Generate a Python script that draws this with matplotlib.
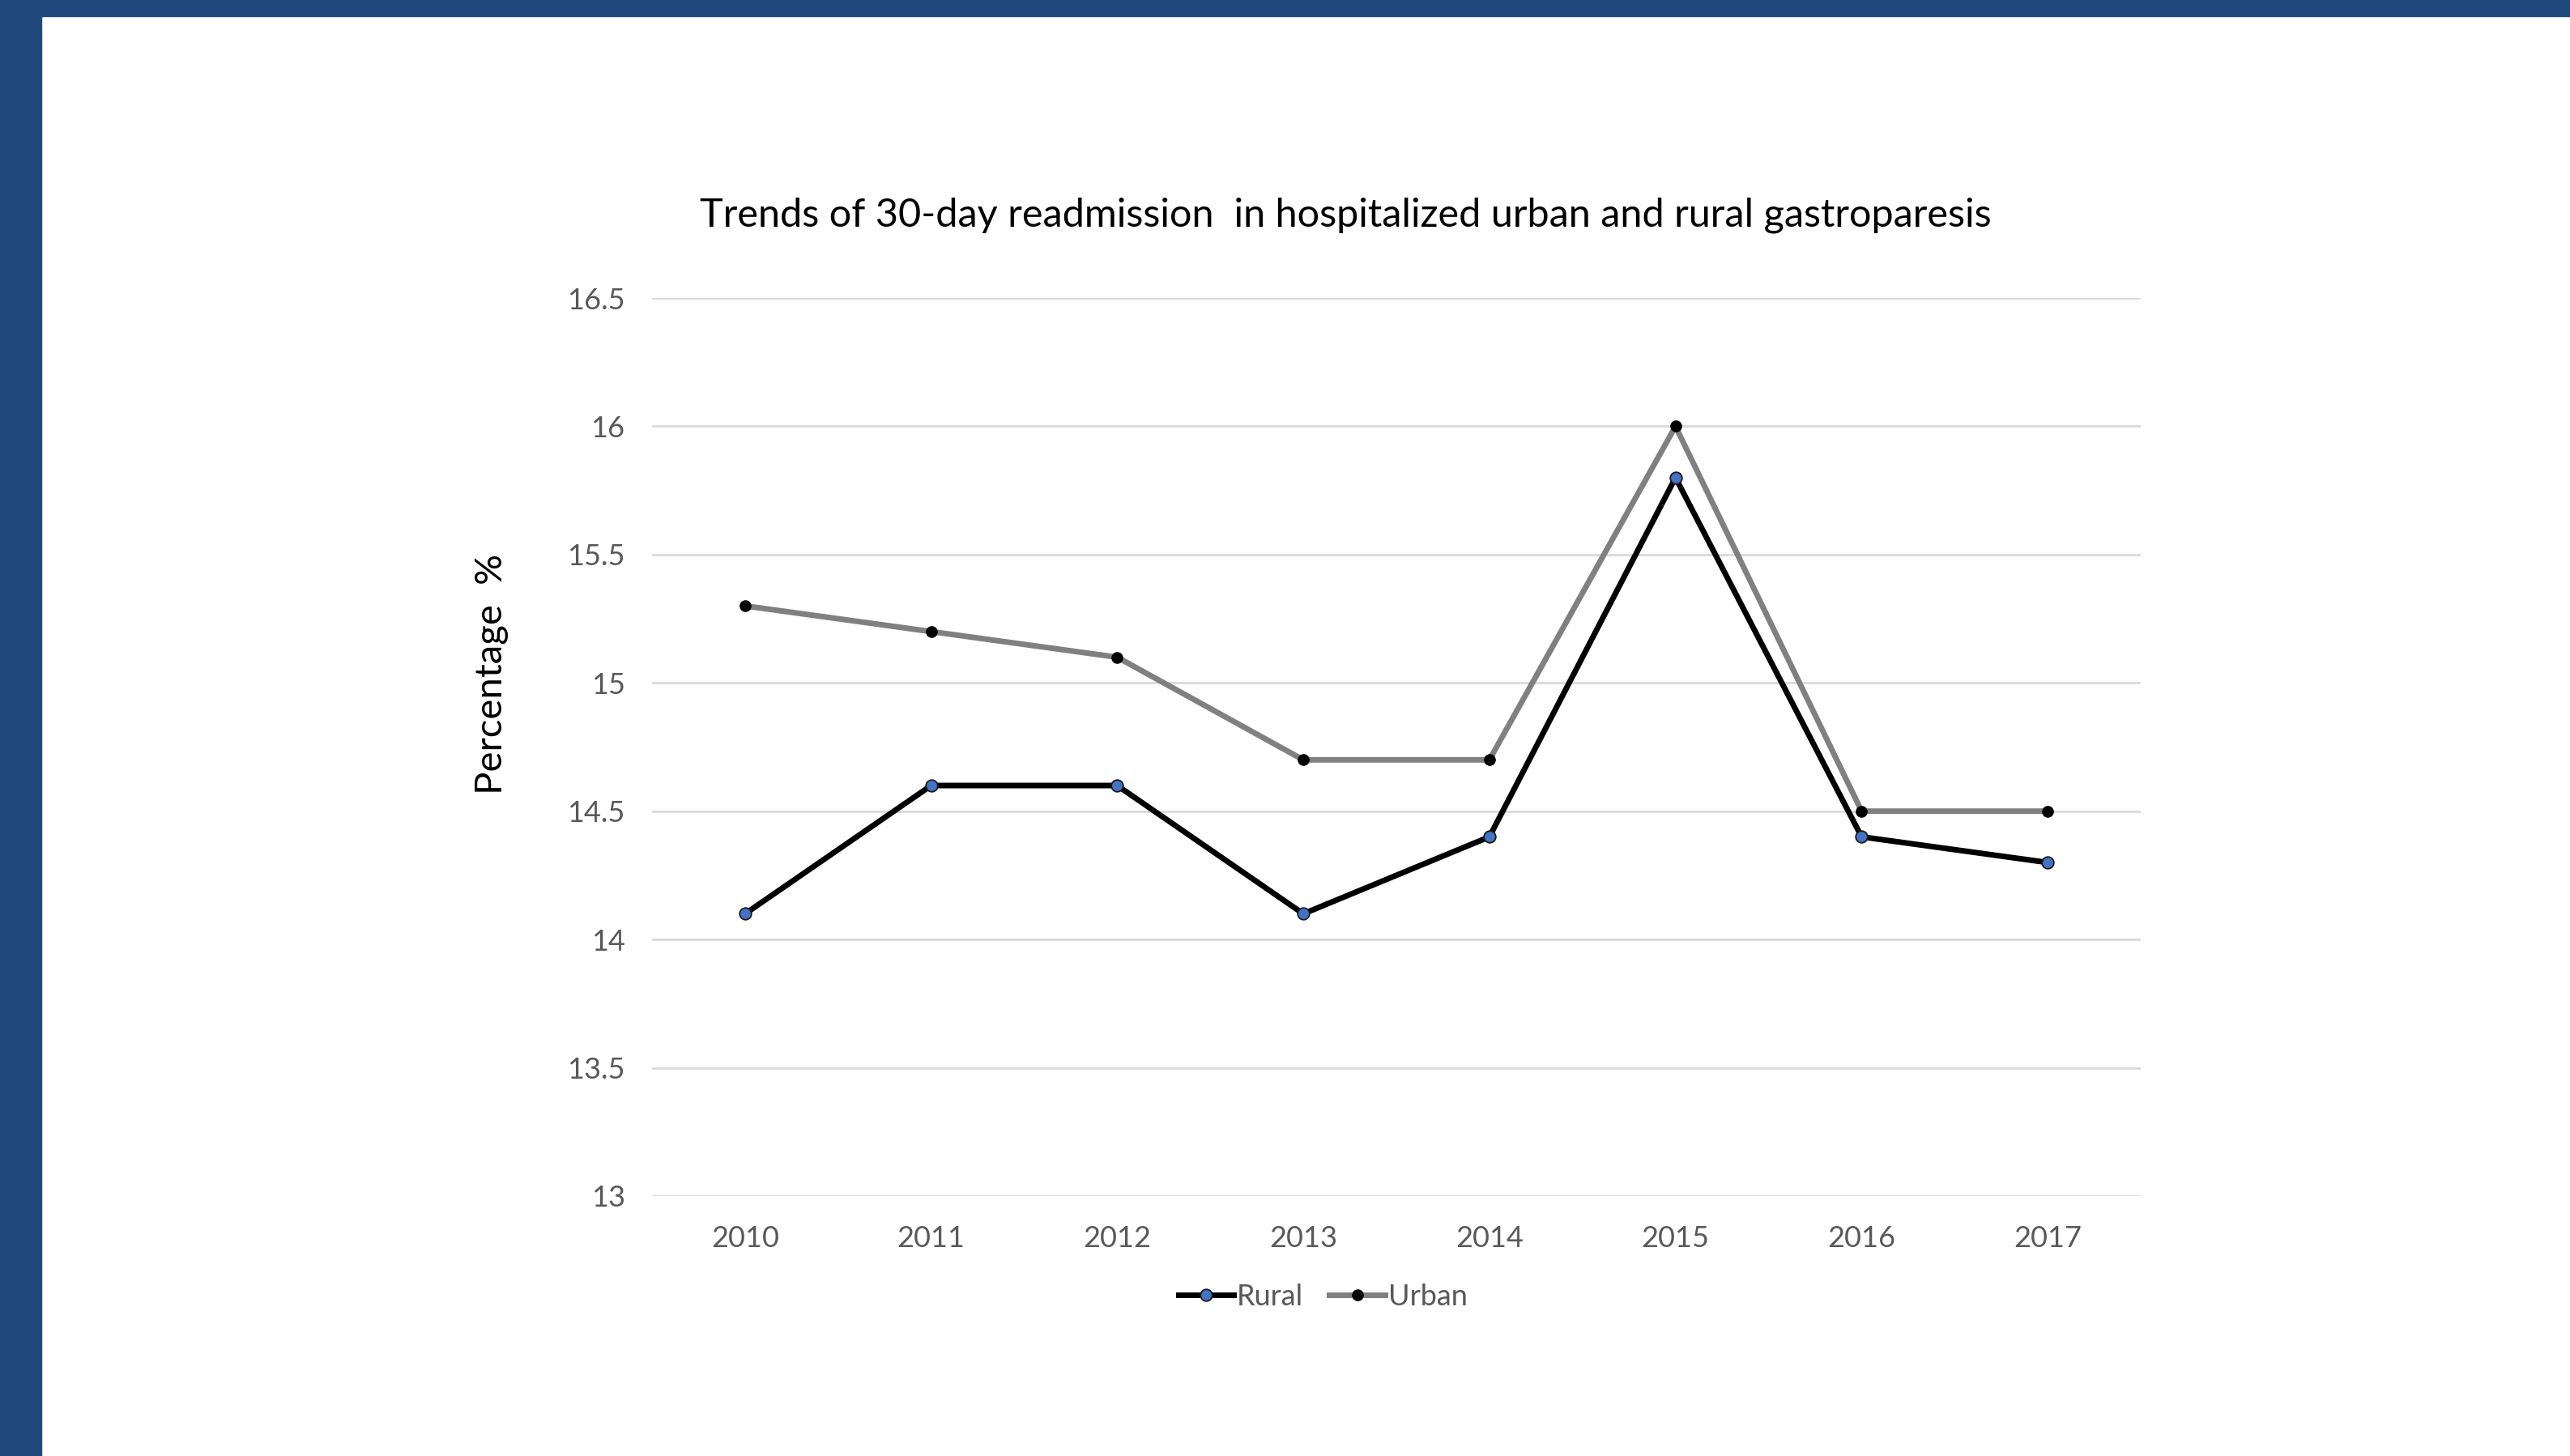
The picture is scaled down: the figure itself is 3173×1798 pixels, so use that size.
import matplotlib

matplotlib.use("Agg")
import matplotlib.pyplot as plt
from matplotlib.patches import Rectangle

years = ["2010", "2011", "2012", "2013", "2014", "2015", "2016", "2017"]
rural = [14.1, 14.6, 14.6, 14.1, 14.4, 15.8, 14.4, 14.3]
urban = [15.3, 15.2, 15.1, 14.7, 14.7, 16.0, 14.5, 14.5]
y_ticks = [13, 13.5, 14, 14.5, 15, 15.5, 16, 16.5]
y_tick_labels = ["13", "13.5", "14", "14.5", "15", "15.5", "16", "16.5"]

plt.rcParams["font.family"] = ["Lato", "DejaVu Sans"]

W, H, DPI = 3173, 1798, 100
fig = plt.figure(figsize=(W / DPI, H / DPI), dpi=DPI, facecolor="white")

# slide frame: dark blue band at top and left
band = "#1F497D"
fig.patches.append(Rectangle((0, 1 - 20 / H), 1, 20 / H, transform=fig.transFigure,
                             color=band, zorder=0))
fig.patches.append(Rectangle((0, 0), 51 / W, 1, transform=fig.transFigure,
                             color=band, zorder=0))

ax = fig.add_axes([805 / W, 1 - 1477 / H, (2643 - 805) / W, (1477 - 368) / H])
x = list(range(len(years)))

ax.plot(x, rural, color="black", lw=5.0, marker="o", ms=10.5,
        mfc="#4472C4", mec="#1a1a1a", mew=1.3, label="Rural", zorder=3)
ax.plot(x, urban, color="#808080", lw=5.0, marker="o", ms=9.5,
        mfc="black", mec="black", label="Urban", zorder=2)

ax.set_xlim(-0.5, len(years) - 0.5)
ax.set_ylim(13, 16.5)
ax.set_yticks(y_ticks)
ax.set_yticklabels(y_tick_labels)
ax.set_xticks(x)
ax.set_xticklabels(years)
ax.grid(axis="y", color="#D9D9D9", lw=2)
ax.set_axisbelow(True)
for s in ax.spines.values():
    s.set_visible(False)
ax.tick_params(axis="both", length=0, labelsize=26, labelcolor="#595959")
ax.tick_params(axis="y", pad=24)
ax.tick_params(axis="x", pad=26)

fig.text(607 / W, 1 - 832 / H, "Percentage  %", rotation=90, ha="center", va="center",
         fontsize=34, color="black")
fig.text(1661 / W, 1 - 266 / H, "Trends of 30-day readmission  in hospitalized urban and rural gastroparesis",
         ha="center", va="center", fontsize=35, color="black")

ax.legend(loc="center", bbox_to_anchor=(1633 / W, 1 - 1601 / H), bbox_transform=fig.transFigure,
          ncol=2, frameon=False, fontsize=26, labelcolor="#595959", handlelength=1.9,
          handletextpad=0.1, columnspacing=0.9)

fig.savefig("out.png", dpi=DPI, facecolor="white")
